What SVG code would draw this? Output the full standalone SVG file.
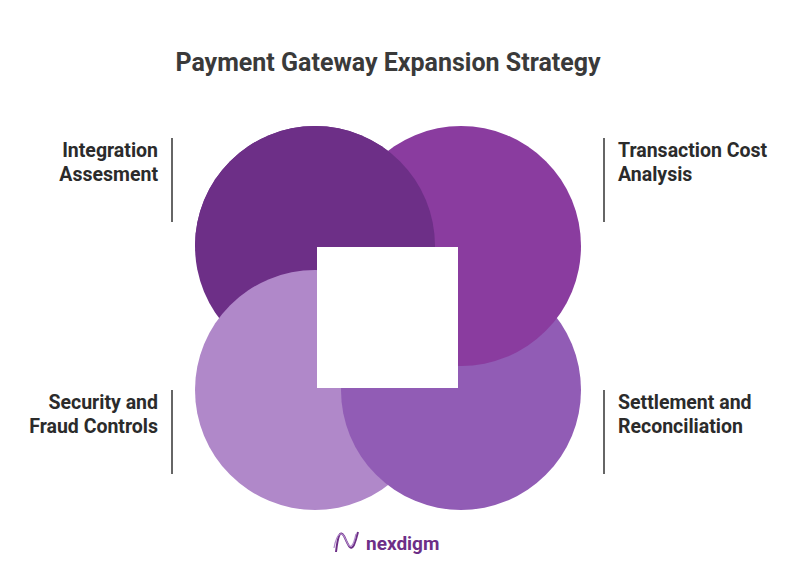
<svg xmlns="http://www.w3.org/2000/svg" width="800" height="562" viewBox="0 0 800 562">
<style>
.t{font-family:Roboto,"Liberation Sans",sans-serif;font-weight:bold;font-size:19.5px;fill:#2b2b2b}
.d{stroke:#333;stroke-width:1.5}
</style>
<defs><clipPath id="top"><rect x="0" y="0" width="800" height="247"/></clipPath></defs>
<rect width="800" height="562" fill="#fff"/>
<text x="388" y="71" text-anchor="middle" font-family="Roboto,'Liberation Sans',sans-serif" font-weight="bold" font-size="25" fill="#3a3a3a">Payment Gateway Expansion Strategy</text>
<g id="circle-tl"><circle cx="315" cy="246" r="120" fill="#6d2f87"/></g>
<g id="circle-bl"><circle cx="315" cy="390" r="120" fill="#b088c9"/></g>
<g id="circle-br"><circle cx="461" cy="390" r="120" fill="#915cb5"/></g>
<g id="circle-tr"><circle cx="461" cy="246" r="120" fill="#8a3c9f"/></g>
<circle cx="315" cy="246" r="120" fill="#6d2f87" clip-path="url(#top)"/>
<g id="center"><rect x="317" y="247" width="141" height="141" fill="#fff"/></g>
<g id="labels">
<line class="d" x1="172" y1="138" x2="172" y2="222"/>
<text class="t" text-anchor="end" x="158" y="157">Integration</text>
<text class="t" text-anchor="end" x="158" y="181">Assesment</text>
<line class="d" x1="604" y1="138" x2="604" y2="222"/>
<text class="t" x="618" y="157">Transaction Cost</text>
<text class="t" x="618" y="181">Analysis</text>
<line class="d" x1="172" y1="390" x2="172" y2="474"/>
<text class="t" text-anchor="end" x="158" y="409">Security and</text>
<text class="t" text-anchor="end" x="158" y="433">Fraud Controls</text>
<line class="d" x1="604" y1="390" x2="604" y2="474"/>
<text class="t" x="618" y="409">Settlement and</text>
<text class="t" x="618" y="433">Reconciliation</text>
</g>
<g id="logo">
<path d="M336 552 C338 535 340 530 344 536 C348 544 350 552 354 545 C356 540 357 536 358 532" fill="none" stroke="#6d2f87" stroke-width="2"/>
<path d="M334 548 C337 532 342 530 346 540 C350 550 353 548 356 534" fill="none" stroke="#b088c9" stroke-width="1.2"/>
<text x="366" y="550" font-family="Roboto,'Liberation Sans',sans-serif" font-weight="bold" font-size="19" fill="#6d2f87">nexdigm</text>
</g>
</svg>
